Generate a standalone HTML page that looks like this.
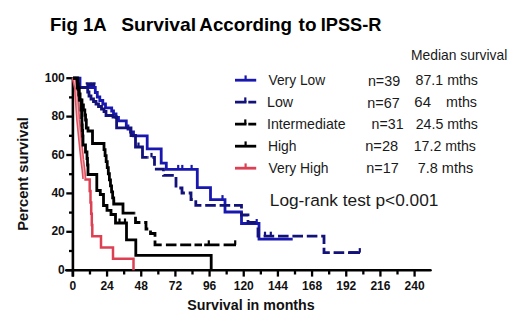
<!DOCTYPE html>
<html><head><meta charset="utf-8"><style>
html,body{margin:0;padding:0;background:#fff;}
body{width:520px;height:328px;overflow:hidden;}
svg{display:block;}
text{font-family:"Liberation Sans",sans-serif;}
.tk{font-size:12px;font-weight:bold;fill:#111;}
.lg{font-size:14px;fill:#1a1a1a;}
.tt{font-size:18px;font-weight:bold;fill:#000;}
</style></head><body>
<svg width="520" height="328" viewBox="0 0 520 328">
<rect width="520" height="328" fill="#fff"/>
<text x="50.0" y="30.5" textLength="56.74" lengthAdjust="spacingAndGlyphs" style="font-size:18.5px;font-weight:bold;fill:#000">Fig 1A</text>
<text x="121.16" y="30.5" textLength="74.98" lengthAdjust="spacingAndGlyphs" style="font-size:18.5px;font-weight:bold;fill:#000">Survival</text>
<text x="199.39" y="30.5" textLength="92.62" lengthAdjust="spacingAndGlyphs" style="font-size:18.5px;font-weight:bold;fill:#000">According</text>
<text x="298.6" y="30.5" textLength="17.88" lengthAdjust="spacingAndGlyphs" style="font-size:18.5px;font-weight:bold;fill:#000">to</text>
<text x="320.71" y="30.5" textLength="60.76" lengthAdjust="spacingAndGlyphs" style="font-size:18.5px;font-weight:bold;fill:#000">IPSS-R</text>
<text x="410.92" y="59.7" textLength="96.34" lengthAdjust="spacingAndGlyphs" style="font-size:14.2px;font-weight:normal;fill:#1a1a1a">Median survival</text>
<text x="268.5" y="85.3" textLength="56.77" lengthAdjust="spacingAndGlyphs" style="font-size:14.5px;font-weight:normal;fill:#1a1a1a">Very Low</text>
<text x="267.02" y="107.3" textLength="26.1" lengthAdjust="spacingAndGlyphs" style="font-size:14.5px;font-weight:normal;fill:#1a1a1a">Low</text>
<text x="267.03" y="129.1" textLength="78.57" lengthAdjust="spacingAndGlyphs" style="font-size:14.5px;font-weight:normal;fill:#1a1a1a">Intermediate</text>
<text x="267.94" y="151.2" textLength="28.55" lengthAdjust="spacingAndGlyphs" style="font-size:14.5px;font-weight:normal;fill:#1a1a1a">High</text>
<text x="268.5" y="173.1" textLength="60.04" lengthAdjust="spacingAndGlyphs" style="font-size:14.5px;font-weight:normal;fill:#1a1a1a">Very High</text>
<text x="367.91" y="85.6" textLength="32.25" lengthAdjust="spacingAndGlyphs" style="font-size:14.5px;font-weight:normal;fill:#1a1a1a">n=39</text>
<text x="367.26" y="107.5" textLength="32.41" lengthAdjust="spacingAndGlyphs" style="font-size:14.5px;font-weight:normal;fill:#1a1a1a">n=67</text>
<text x="371.62" y="129.4" textLength="31.93" lengthAdjust="spacingAndGlyphs" style="font-size:14.5px;font-weight:normal;fill:#1a1a1a">n=31</text>
<text x="365.24" y="151.4" textLength="32.94" lengthAdjust="spacingAndGlyphs" style="font-size:14.5px;font-weight:normal;fill:#1a1a1a">n=28</text>
<text x="366.21" y="173.3" textLength="32.46" lengthAdjust="spacingAndGlyphs" style="font-size:14.5px;font-weight:normal;fill:#1a1a1a">n=17</text>
<text x="415.52" y="85.1" textLength="62.44" lengthAdjust="spacingAndGlyphs" style="font-size:14.5px;font-weight:normal;fill:#1a1a1a">87.1 mths</text>
<text x="414.37" y="106.9" textLength="16.68" lengthAdjust="spacingAndGlyphs" style="font-size:14.5px;font-weight:normal;fill:#1a1a1a">64</text>
<text x="446.01" y="106.9" textLength="31.0" lengthAdjust="spacingAndGlyphs" style="font-size:14.5px;font-weight:normal;fill:#1a1a1a">mths</text>
<text x="415.72" y="128.9" textLength="62.23" lengthAdjust="spacingAndGlyphs" style="font-size:14.5px;font-weight:normal;fill:#1a1a1a">24.5 mths</text>
<text x="413.72" y="150.9" textLength="62.23" lengthAdjust="spacingAndGlyphs" style="font-size:14.5px;font-weight:normal;fill:#1a1a1a">17.2 mths</text>
<text x="417.7" y="172.9" textLength="55.51" lengthAdjust="spacingAndGlyphs" style="font-size:14.5px;font-weight:normal;fill:#1a1a1a">7.8 mths</text>
<text x="269.77" y="206.2" textLength="168.69" lengthAdjust="spacingAndGlyphs" style="font-size:16.8px;font-weight:normal;fill:#1a1a1a">Log-rank test p&lt;0.001</text>
<text x="187.22" y="309.9" textLength="127.5" lengthAdjust="spacingAndGlyphs" style="font-size:14.5px;font-weight:bold;fill:#111">Survival in months</text>
<text transform="translate(28.4,230.7) rotate(-90)" textLength="113.5" lengthAdjust="spacingAndGlyphs" style="font-size:15px;font-weight:bold;fill:#111">Percent survival</text>
<text x="64.8" y="273.70" text-anchor="end" class="tk">0</text>
<text x="64.8" y="235.30" text-anchor="end" class="tk">20</text>
<text x="64.8" y="196.90" text-anchor="end" class="tk">40</text>
<text x="64.8" y="158.50" text-anchor="end" class="tk">60</text>
<text x="64.8" y="120.10" text-anchor="end" class="tk">80</text>
<text x="64.8" y="81.70" text-anchor="end" class="tk">100</text>
<text x="72.90" y="289.7" text-anchor="middle" class="tk">0</text>
<text x="107.07" y="289.7" text-anchor="middle" class="tk">24</text>
<text x="141.24" y="289.7" text-anchor="middle" class="tk">48</text>
<text x="175.41" y="289.7" text-anchor="middle" class="tk">72</text>
<text x="209.58" y="289.7" text-anchor="middle" class="tk">96</text>
<text x="243.74" y="289.7" text-anchor="middle" class="tk">120</text>
<text x="277.91" y="289.7" text-anchor="middle" class="tk">144</text>
<text x="312.08" y="289.7" text-anchor="middle" class="tk">168</text>
<text x="346.25" y="289.7" text-anchor="middle" class="tk">192</text>
<text x="380.42" y="289.7" text-anchor="middle" class="tk">216</text>
<text x="414.59" y="289.7" text-anchor="middle" class="tk">240</text>
<line x1="72.9" y1="78.19999999999999" x2="72.9" y2="276.6" stroke="#000" stroke-width="2.6"/>
<line x1="66.3" y1="270.2" x2="430.5" y2="270.2" stroke="#000" stroke-width="2.6" stroke-linecap="round"/>
<line x1="66.3" y1="270.20" x2="72.9" y2="270.20" stroke="#000" stroke-width="2.3"/>
<line x1="69" y1="251.00" x2="72.9" y2="251.00" stroke="#000" stroke-width="2.3"/>
<line x1="66.3" y1="231.80" x2="72.9" y2="231.80" stroke="#000" stroke-width="2.3"/>
<line x1="69" y1="212.60" x2="72.9" y2="212.60" stroke="#000" stroke-width="2.3"/>
<line x1="66.3" y1="193.40" x2="72.9" y2="193.40" stroke="#000" stroke-width="2.3"/>
<line x1="69" y1="174.20" x2="72.9" y2="174.20" stroke="#000" stroke-width="2.3"/>
<line x1="66.3" y1="155.00" x2="72.9" y2="155.00" stroke="#000" stroke-width="2.3"/>
<line x1="69" y1="135.80" x2="72.9" y2="135.80" stroke="#000" stroke-width="2.3"/>
<line x1="66.3" y1="116.60" x2="72.9" y2="116.60" stroke="#000" stroke-width="2.3"/>
<line x1="69" y1="97.40" x2="72.9" y2="97.40" stroke="#000" stroke-width="2.3"/>
<line x1="66.3" y1="78.20" x2="72.9" y2="78.20" stroke="#000" stroke-width="2.3"/>
<line x1="72.90" y1="270.2" x2="72.90" y2="276.6" stroke="#000" stroke-width="2.3"/>
<line x1="89.98" y1="270.2" x2="89.98" y2="274.5" stroke="#000" stroke-width="2.3"/>
<line x1="107.07" y1="270.2" x2="107.07" y2="276.6" stroke="#000" stroke-width="2.3"/>
<line x1="124.15" y1="270.2" x2="124.15" y2="274.5" stroke="#000" stroke-width="2.3"/>
<line x1="141.24" y1="270.2" x2="141.24" y2="276.6" stroke="#000" stroke-width="2.3"/>
<line x1="158.32" y1="270.2" x2="158.32" y2="274.5" stroke="#000" stroke-width="2.3"/>
<line x1="175.41" y1="270.2" x2="175.41" y2="276.6" stroke="#000" stroke-width="2.3"/>
<line x1="192.49" y1="270.2" x2="192.49" y2="274.5" stroke="#000" stroke-width="2.3"/>
<line x1="209.58" y1="270.2" x2="209.58" y2="276.6" stroke="#000" stroke-width="2.3"/>
<line x1="226.66" y1="270.2" x2="226.66" y2="274.5" stroke="#000" stroke-width="2.3"/>
<line x1="243.74" y1="270.2" x2="243.74" y2="276.6" stroke="#000" stroke-width="2.3"/>
<line x1="260.83" y1="270.2" x2="260.83" y2="274.5" stroke="#000" stroke-width="2.3"/>
<line x1="277.91" y1="270.2" x2="277.91" y2="276.6" stroke="#000" stroke-width="2.3"/>
<line x1="295.00" y1="270.2" x2="295.00" y2="274.5" stroke="#000" stroke-width="2.3"/>
<line x1="312.08" y1="270.2" x2="312.08" y2="276.6" stroke="#000" stroke-width="2.3"/>
<line x1="329.17" y1="270.2" x2="329.17" y2="274.5" stroke="#000" stroke-width="2.3"/>
<line x1="346.25" y1="270.2" x2="346.25" y2="276.6" stroke="#000" stroke-width="2.3"/>
<line x1="363.33" y1="270.2" x2="363.33" y2="274.5" stroke="#000" stroke-width="2.3"/>
<line x1="380.42" y1="270.2" x2="380.42" y2="276.6" stroke="#000" stroke-width="2.3"/>
<line x1="397.50" y1="270.2" x2="397.50" y2="274.5" stroke="#000" stroke-width="2.3"/>
<line x1="414.59" y1="270.2" x2="414.59" y2="276.6" stroke="#000" stroke-width="2.3"/>
<g fill="none" stroke-linejoin="miter" stroke-linecap="butt">
<path d="M84.3,179.6 H89.7 V191.1 H90.5 V202.4 H91.2 V213.7 H91.8 V225 H92.3 V236.3 H101 V247.5 H113 V258.7 H133.5 V270.2" stroke="#dd4052" stroke-width="2.5"/>
<path d="M73.6,77.2 L76,88 L76.8,100 L78.2,120 L79.2,130 L80.7,145 L82.2,160 L83.5,170 L84.3,178.8" stroke="#e0505e" stroke-width="4.2" stroke-linejoin="round"/>
<path d="M73.6,77.2 L76,88 L76.8,100 L78.2,120 L79.2,130 L80.7,145 L82.2,160 L83.5,170 L84.3,178.8" stroke="#f2b0b6" stroke-width="1.2" stroke-linejoin="round"/>
<path d="M73,78.2 H80 V87.5 H95.3 V92.5 H97.3 V97 H99.8 V100.5 H102.8 V104 H105.5 V107.8 H111.7 V111 H113.5 V114 H116 V117.5 H118.5 V120.8 H126.3 V126 H128 V129 H130.5 V132 H133.5 V135.8 H147.2 V148.8 H161.2 V163.2 H166.3 V169.4 H197.3 V187.6 H210.5 V199.6 H225 V212 H241.5 V223.5 H259 V239.2 H292.7" stroke="#1818b0" stroke-width="2.8"/>
</g>
<path d="M73,78.2 H78 V87.5 H87.7 V92 H89 V96 H91 V99 H93.5 V101.5 H96 V104 H98.5 V106.5 H101.5 V109 H104 V111.5 H106 V115.5 H113 V117 H116.6 V127.8 H131 V135.5 H135.5 V147 H142.5 V157.4 H147.3" stroke="#12127a" stroke-width="2.8" fill="none"/>
<path d="M147.3,157.4 H154.5 V169.2 H163.5 V175.3 H176 V188 H182 V193 H191 V199.5 H195.8 V205.3 H241.5 V215 H248 V222.5 H258" stroke="#12127a" stroke-width="2.8" stroke-dasharray="10.6,3.8" stroke-dashoffset="9.40" fill="none"/>
<path d="M258,222.5 V236.2 H324 V252.6 H358" stroke="#12127a" stroke-width="2.8" stroke-dasharray="10.6,3.8" stroke-dashoffset="9.50" fill="none"/>
<path d="M349,252.6 H360" stroke="#12127a" stroke-width="2.8"/>
<path d="M86.3,84.6 H95.3 M87.3,84.6 V82.3 M90.7,84.6 V82.3 M94,84.6 V82.3" stroke="#12127a" stroke-width="3.2" fill="none"/>
<path d="M73,78.2 H77.6 V83.8 H78.23 V89.4 H78.87 V95.0 H79.5 V100.0 H82.0 V105.0 H83.4 V110.0 H84.8 V115.0 H85.55 V120.0 H86.3 V128.0 H88.0 V131.0 H89.5 H92.5 V143.5 H104 V149.55 H105.08 V155.6 H106.16 V161.65 H107.24 V167.7 H108.32 V173.75 H109.4 V179.8 H110.48 V185.85 H111.56 V191.9 H112.64 V197.95 H113.72 V204.0 H114.8 H123 V213.2 H134.8" stroke="#000" stroke-width="2.8" fill="none"/>
<path d="M134.8,213.2 H135.5 V222.5 H146 V229 H150.5 V233.5 H155 V240.5" stroke="#000" stroke-width="2.8" stroke-dasharray="10.6,3.8" stroke-dashoffset="10.10" fill="none"/>
<path d="M155,240.5 V244.8 H161.7 M165.9,244.8 H176.5 M180.2,244.8 H191.2 M194.5,244.8 H202 M204.2,244.8 H219.5 M223.6,244.8 H236" stroke="#000" stroke-width="2.8" fill="none"/>
<g fill="none" stroke-linejoin="miter" stroke-linecap="butt">
<path d="M73,78.2 H77.2 V88.0 H79.2 V94.0 H80.1 V100.0 H81.0 V110.0 H81.6 V117.5 H81.95 V125.0 H82.3 V130.5 H82.65 V136.0 H83.0 V145.0 H85.5 V152.0 H87.0 V158.5 H87.5 V165.0 H88.0 V174.5 H88.5 H96.8 V190.5 H100.3 V194.5 H103.5 V205.5 H107 V210.3 H111 V214.5 H115.5 V223 H126.5 V239.8 H135.8 V255.3 H211.2 V270.2" stroke="#000" stroke-width="2.8"/>

</g>
<line x1="178.2" y1="169.4" x2="178.2" y2="164.9" stroke="#1818b0" stroke-width="2.2"/>
<line x1="182.3" y1="169.4" x2="182.3" y2="164.9" stroke="#1818b0" stroke-width="2.2"/>
<line x1="191.6" y1="169.4" x2="191.6" y2="164.9" stroke="#1818b0" stroke-width="2.2"/>
<line x1="222.5" y1="199.6" x2="222.5" y2="195.1" stroke="#1818b0" stroke-width="2.2"/>
<line x1="256.7" y1="223.5" x2="256.7" y2="219.0" stroke="#1818b0" stroke-width="2.2"/>
<line x1="138.5" y1="147" x2="138.5" y2="142.5" stroke="#12127a" stroke-width="2.2"/>
<line x1="151.5" y1="157.4" x2="151.5" y2="152.9" stroke="#12127a" stroke-width="2.2"/>
<line x1="265" y1="236.2" x2="265" y2="231.7" stroke="#12127a" stroke-width="2.2"/>
<line x1="270.8" y1="236.2" x2="270.8" y2="231.7" stroke="#12127a" stroke-width="2.2"/>
<line x1="359.8" y1="252.6" x2="359.8" y2="248.1" stroke="#12127a" stroke-width="2.2"/>
<line x1="119.5" y1="223" x2="119.5" y2="218.5" stroke="#000" stroke-width="2.2"/>
<line x1="125" y1="223" x2="125" y2="218.5" stroke="#000" stroke-width="2.2"/>
<line x1="114" y1="204" x2="114" y2="199.5" stroke="#000" stroke-width="2.2"/>
<line x1="235.2" y1="244.8" x2="235.2" y2="240.3" stroke="#000" stroke-width="2.2"/>
<line x1="208.8" y1="244.8" x2="208.8" y2="240.3" stroke="#000" stroke-width="2.2"/>
<line x1="235" y1="80.2" x2="256.2" y2="80.2" stroke="#1818b0" stroke-width="2.8"/>
<line x1="245.6" y1="80.2" x2="245.6" y2="75.4" stroke="#1818b0" stroke-width="2.2"/>
<path d="M235,102.2 H246.5 M248.3,102.2 H256.2" stroke="#12127a" stroke-width="2.8" fill="none"/>
<line x1="245.3" y1="102.2" x2="245.3" y2="97.4" stroke="#12127a" stroke-width="2.2"/>
<path d="M235,124.2 H246.5 M248.3,124.2 H256.2" stroke="#000" stroke-width="2.8" fill="none"/>
<line x1="245.3" y1="124.2" x2="245.3" y2="119.4" stroke="#000" stroke-width="2.2"/>
<line x1="235" y1="146.2" x2="256.2" y2="146.2" stroke="#000" stroke-width="2.8"/>
<line x1="245.6" y1="146.2" x2="245.6" y2="141.39999999999998" stroke="#000" stroke-width="2.2"/>
<line x1="235" y1="168.2" x2="256.2" y2="168.2" stroke="#dd4052" stroke-width="2.8"/>
<line x1="245.6" y1="168.2" x2="245.6" y2="163.39999999999998" stroke="#dd4052" stroke-width="2.2"/>
</svg>
</body></html>
